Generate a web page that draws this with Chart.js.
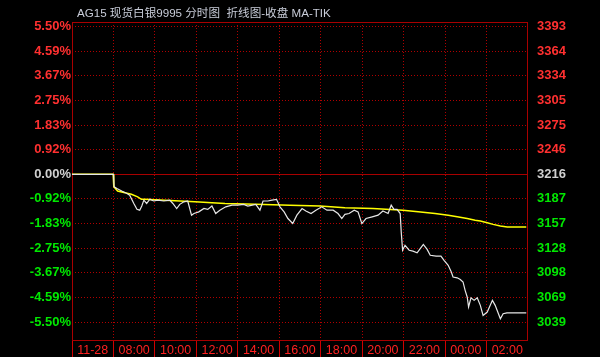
<!DOCTYPE html>
<html>
<head>
<meta charset="utf-8">
<script src="https://cdn.jsdelivr.net/npm/chart.js@4"></script>
<style>
  html, body { margin: 0; padding: 0; background: #000; }
  #wrap { width: 600px; height: 357px; position: relative; }
</style>
</head>
<body>
<div id="wrap"><canvas id="c"></canvas></div>
<script>
// minutes since 06:00, prices
const priceTimes = [0, 120, 122, 130, 144, 159, 167, 179, 188, 196, 202, 208, 216, 225, 237, 248, 266, 283, 292, 303,
  312, 324, 335, 346, 353, 367, 382, 393, 405, 416, 428, 445, 463, 480, 497, 509, 532, 544, 553, 567,
  579, 592, 602, 614, 625, 639, 651, 666, 677, 692, 706, 723, 738, 756, 770, 781, 790, 802, 817, 828,
  839, 851, 869, 886, 900, 915, 924, 932, 941, 950, 953, 957, 964, 976, 987, 999, 1008, 1017, 1028, 1037,
  1054, 1068, 1077, 1089, 1098, 1103, 1115, 1124, 1132, 1138, 1144, 1148, 1155, 1164, 1173, 1182, 1190, 1202, 1217, 1225,
  1240, 1248, 1259, 1315];
const priceValues = [3216, 3216, 3201, 3199, 3196, 3193, 3191, 3181, 3174, 3173, 3178, 3185, 3181, 3186, 3184, 3185, 3184, 3185, 3181, 3175,
  3180, 3183, 3184, 3167, 3169, 3171, 3175, 3174, 3178, 3169, 3173, 3177, 3179, 3179, 3180, 3178, 3180, 3173, 3184, 3184,
  3185, 3186, 3177, 3171, 3163, 3157, 3167, 3175, 3172, 3169, 3173, 3177, 3173, 3173, 3169, 3163, 3168, 3169, 3173, 3171,
  3157, 3163, 3165, 3167, 3172, 3169, 3179, 3174, 3174, 3169, 3147, 3125, 3131, 3125, 3124, 3122, 3127, 3132, 3126, 3119,
  3118, 3118, 3113, 3107, 3099, 3093, 3092, 3090, 3087, 3077, 3069, 3057, 3068, 3065, 3068, 3059, 3047, 3051, 3065, 3059,
  3043, 3049, 3050, 3050];

const maTimes = [0, 119, 121, 132, 153, 172, 190, 201, 211, 269, 356, 405, 443, 532, 631, 718, 790, 871, 958, 1002,
  1051, 1089, 1115, 1144, 1167, 1182, 1202, 1219, 1240, 1260, 1315];
const maValues = [3216, 3216, 3201, 3196, 3194, 3192, 3189, 3186, 3186, 3185, 3183, 3182, 3181, 3180, 3179, 3178, 3176, 3175, 3173, 3171,
  3169, 3167, 3165, 3163, 3161, 3160, 3158, 3156, 3154, 3153, 3153];

const basePrice = 3216;
const priceTicks = [3039, 3068.5, 3098, 3127.5, 3157, 3186.5, 3216, 3245.5, 3275, 3304.5, 3334, 3363.5, 3393];
const timeLabels = ['11-28', '08:00', '10:00', '12:00', '14:00', '16:00', '18:00', '20:00', '22:00', '00:00', '02:00'];

const RED = '#ff3030', GREEN = '#00e800', GRAY = '#d0d0d0';
const gridRed = '#b00000';

function tickColor(ctx) {
  const v = ctx.tick.value;
  if (Math.abs(v - basePrice) < 0.01) return GRAY;
  return v > basePrice ? RED : GREEN;
}

const frame = {
  id: 'frame',
  beforeDraw(chart) {
    const c = chart.ctx;
    c.save();
    c.fillStyle = '#000';
    c.fillRect(0, 0, chart.width, chart.height);
    c.restore();
  },
  beforeDatasetsDraw(chart) {
    const {ctx, chartArea: a, scales} = chart;
    ctx.save();
    ctx.strokeStyle = '#a80000';
    ctx.lineWidth = 1;
    const y0 = Math.round(scales.y.getPixelForValue(basePrice)) + 0.5;
    ctx.beginPath();
    ctx.moveTo(a.left, y0);
    ctx.lineTo(a.right, y0);
    ctx.stroke();
    ctx.strokeRect(a.left + 0.5, a.top + 0.5, a.right - a.left - 1, a.bottom - a.top);
    // title
    ctx.fillStyle = '#c8ccd8';
    ctx.font = '11.6px "Liberation Sans", "Noto Sans CJK SC", sans-serif';
    ctx.textBaseline = 'alphabetic';
    ctx.fillText('AG15 现货白银9995 分时图  折线图-收盘 MA-TIK', 77, 17);
    ctx.restore();
  }
};

new Chart(document.getElementById('c'), {
  type: 'line',
  data: {
    datasets: [
      {
        label: '收盘',
        data: priceTimes.map((t, i) => ({x: t, y: priceValues[i]})),
        borderColor: '#e6e6e6',
        borderWidth: 1.2,
        pointRadius: 0,
        tension: 0,
        yAxisID: 'y'
      },
      {
        label: 'MA',
        data: maTimes.map((t, i) => ({x: t, y: maValues[i]})),
        borderColor: '#ffff00',
        borderWidth: 1.5,
        pointRadius: 0,
        tension: 0,
        yAxisID: 'y'
      }
    ]
  },
  options: {
    responsive: true,
    maintainAspectRatio: false,
    animation: false,
    layout: { padding: { top: 22, left: 0, right: 0, bottom: 0 } },
    plugins: {
      legend: { display: false },
      tooltip: { enabled: false }
    },
    scales: {
      x: {
        type: 'linear',
        min: 0,
        max: 1320,
        afterBuildTicks: (axis) => {
          axis.ticks = [];
          for (let m = 0; m <= 1260; m += 60) axis.ticks.push({value: m});
        },
        afterFit: (axis) => { axis.height = 17; },
        border: { display: false, dash: [1, 2] },
        grid: {
          color: (ctx) => (ctx.tick && ctx.tick.value % 120 === 0) ? gridRed : 'rgba(0,0,0,0)',
          tickColor: (ctx) => (ctx.tick && ctx.tick.value % 120 === 0) ? '#d00000' : 'rgba(0,0,0,0)',
          tickLength: 17,
          tickBorderDash: []
        },
        ticks: {
          autoSkip: false,
          maxRotation: 0,
          padding: -14,
          color: '#ff2020',
          font: { family: '"Liberation Sans", Arial, sans-serif', size: 12.5 },
          callback: (v) => (v % 120 === 60) ? timeLabels[(v - 60) / 120] : ''
        }
      },
      y: {
        position: 'left',
        min: 3017.5,
        max: 3398.4,
        afterBuildTicks: (axis) => { axis.ticks = priceTicks.map(v => ({value: v})); },
        afterFit: (axis) => { axis.width = 72; },
        border: { display: false, dash: [1, 2] },
        grid: { color: gridRed, drawTicks: false },
        ticks: {
          padding: 1,
          color: tickColor,
          font: { family: '"Liberation Sans", Arial, sans-serif', size: 13, weight: 'bold' },
          callback: (v) => ((v - basePrice) / basePrice * 100).toFixed(2) + '%'
        }
      },
      y1: {
        position: 'right',
        min: 3017.5,
        max: 3398.4,
        afterBuildTicks: (axis) => { axis.ticks = priceTicks.map(v => ({value: v})); },
        afterFit: (axis) => { axis.width = 72; },
        border: { display: false },
        grid: { display: false, drawTicks: false },
        ticks: {
          padding: 9,
          color: tickColor,
          font: { family: '"Liberation Sans", Arial, sans-serif', size: 13, weight: 'bold' },
          callback: (v) => String(Math.round(v))
        }
      }
    }
  },
  plugins: [frame]
});
</script>
</body>
</html>
